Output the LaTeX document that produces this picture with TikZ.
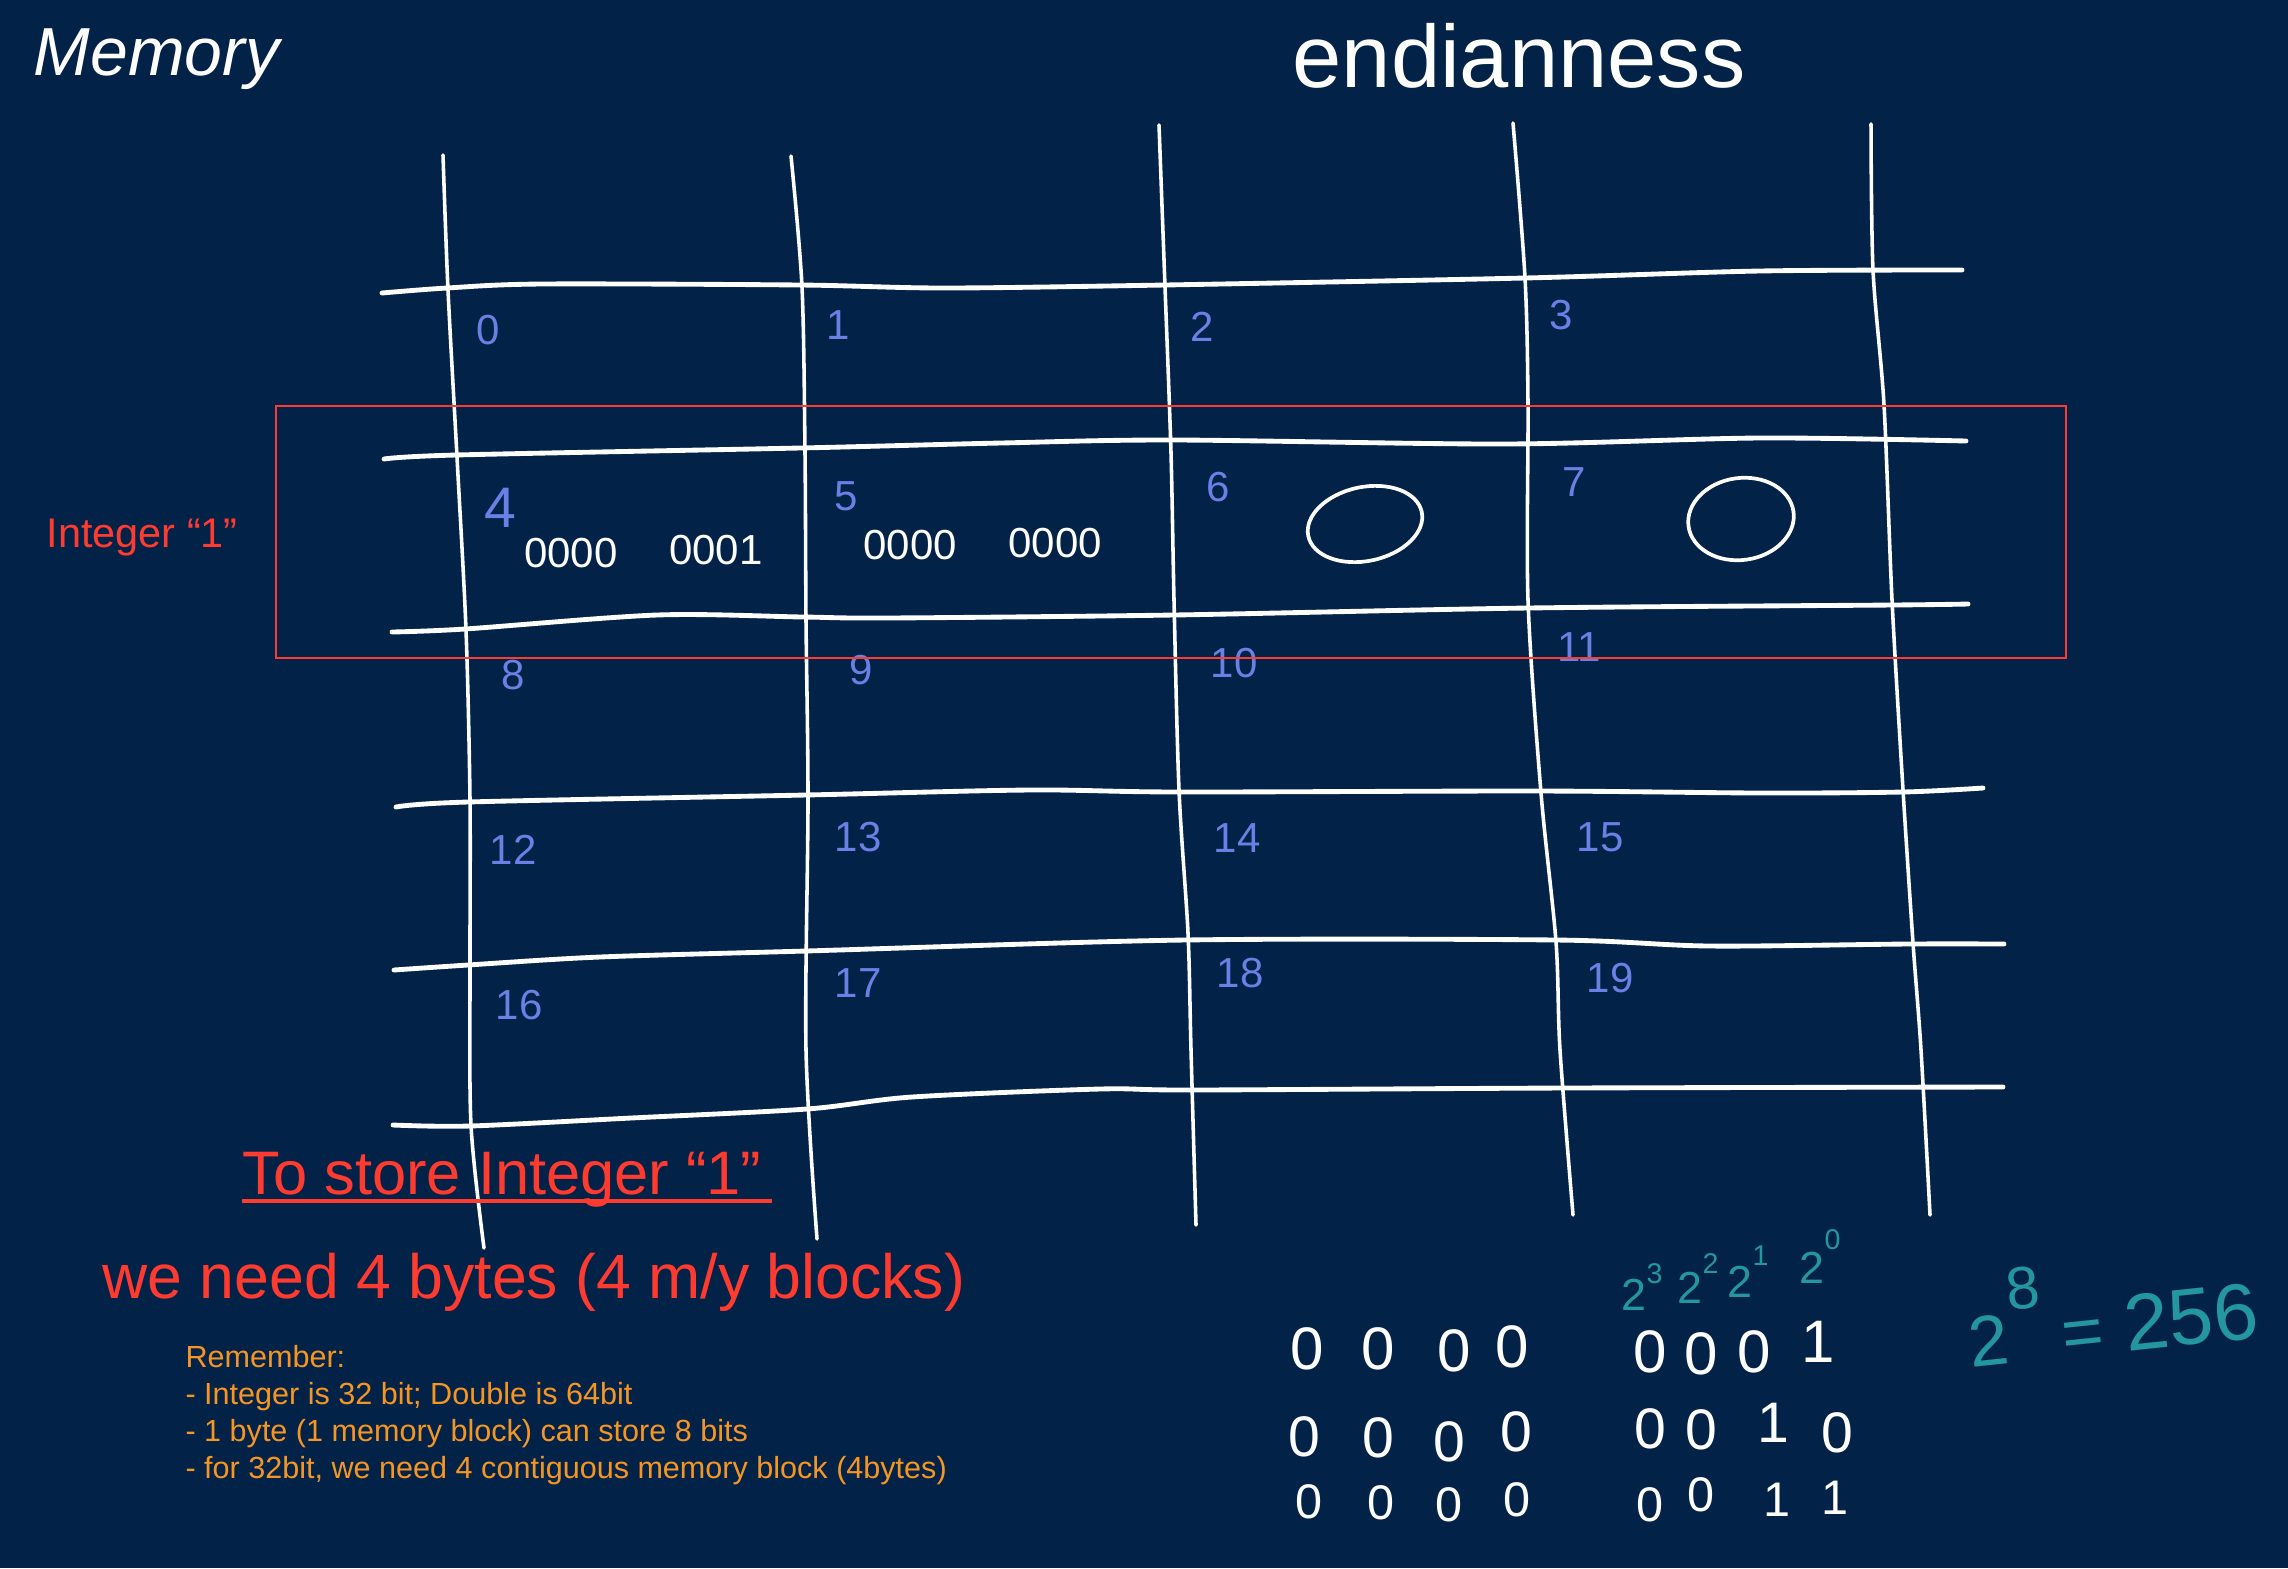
\documentclass[tikz,border=0pt]{standalone}
\usepackage{fontspec}
\setmainfont{Liberation Sans}
\definecolor{bgc}{RGB}{2,34,72}
\definecolor{redc}{RGB}{255,59,48}
\definecolor{orangec}{RGB}{245,150,35}
\definecolor{bluec}{RGB}{105,128,228}
\definecolor{tealc}{RGB}{35,150,160}
\newcommand{\myfs}[1]{\fontsize{#1}{#1}\selectfont}
\begin{document}
\begin{tikzpicture}[x=0.35pt,y=-0.35pt,
  hl/.style={white,line width=1.7pt,line cap=round,line join=round},
  vl/.style={white,line width=1.25pt,line cap=round,line join=round},
  lbl/.style={text=bluec,inner sep=0pt,font=\myfs{14.7}},
  cellbits/.style={text=white,inner sep=0pt,font=\myfs{14.7}},
  bit/.style={text=white,inner sep=0pt},
  pw/.style={text=tealc,inner sep=0pt,anchor=base west,font=\myfs{15.7}},
  note/.style={text=orangec,inner sep=0pt,anchor=base west,font=\myfs{10.7}},
  redtext/.style={text=redc,inner sep=0pt,anchor=base west},
  zero/.style={white,line width=1.3pt}
]
\fill[bgc] (0,0) rectangle (2288,1568);
\useasboundingbox (0,0) rectangle (2288,1568);

% titles
\node[anchor=base west,inner sep=0pt,text=white,font=\itshape\myfs{23.8}] (memory) at (33,75) {Memory};
\node[anchor=base west,inner sep=0pt,text=white,font=\myfs{31}] (endian) at (1292,87) {endianness};

% horizontal grid lines
\draw[hl] plot[smooth] coordinates {(382,293) (447,288) (542,284) (800,285) (944,288) (1165,285) (1525,278) (1760,271) (1962,270)};
\draw[hl] plot[smooth] coordinates {(384,459) (456,455) (800,448) (1001,443) (1174,440) (1505,444) (1760,438) (1966,441)};
\draw[hl] plot[smooth] coordinates {(392,632) (465,629) (657,615) (803,617) (887,618) (1174,615) (1528,608) (1893,605) (1968,604)};
\draw[hl] plot[smooth] coordinates {(396,807) (468,802) (806,795) (1030,790) (1179,792) (1536,791) (1760,793) (1903,792) (1983,788)};
\draw[hl] plot[smooth] coordinates {(394,970) (468,965) (600,957) (806,951) (1185,940) (1556,940) (1709,946) (1908,944) (2004,944)};
\draw[hl] plot[smooth] coordinates {(393,1125) (470,1126) (631,1118) (807,1109) (912,1097) (1100,1089) (1193,1090) (1565,1088) (2003,1087)};

% vertical grid lines
\draw[vl] plot[smooth] coordinates {(443,155) (448,290) (457,457) (466,630) (470,800) (470,967) (471,1125) (484,1248)};
\draw[vl] plot[smooth] coordinates {(791,156) (802,287) (805,453) (806,620) (808,800) (806,1050) (817,1239)};
\draw[vl] plot[smooth] coordinates {(1159,125) (1165,287) (1171,453) (1174,600) (1179,790) (1188,933) (1191,1050) (1196,1225)};
\draw[vl] plot[smooth] coordinates {(1513,123) (1525,278) (1528,405) (1528,600) (1541,793) (1556,942) (1560,1050) (1573,1215)};
\draw[vl] plot[smooth] coordinates {(1871,124) (1873,270) (1884,405) (1892,600) (1903,790) (1913,943) (1921,1050) (1930,1215)};

% cell labels
\foreach \t/\x/\y in {0/488/330, 1/838/325, 2/1202/327, 3/1561/315,
  5/846/496, 6/1218/487, 7/1574/482,
  8/513/675, 9/861/670, 10/1234/663, 11/1579/647,
  12/513/850, 13/858/837, 14/1237/838, 15/1600/837,
  16/519/1005, 17/858/983, 18/1240/973, 19/1610/978}
  \node[lbl] (c\t) at (\x,\y) {\t};
\node[lbl,font=\myfs{20}] (c4) at (500,508) {4};

% bits in cells 4 and 5
\node[cellbits] (b4a) at (571,553) {0000};
\node[cellbits] (b4b) at (716,550) {0001};
\node[cellbits] (b5a) at (910,545) {0000};
\node[cellbits] (b5b) at (1055,543) {0000};
\draw[zero,rotate around={12:(1365,524)}] (1365,524) ellipse [x radius=58,y radius=37];
\draw[zero,rotate around={8:(1741,519)}] (1741,519) ellipse [x radius=53,y radius=41];

% red frame and labels
\draw[redc,line width=0.8pt] (276,406) rectangle (2066,658);
\node[redtext,font=\myfs{14.5}] (intlbl) at (46,547) {Integer “1”};
\node[redtext,font=\myfs{21.5}] (store) at (242,1194) {To store Integer “1”};
\draw[redc,line width=1.15pt] (store.base west) ++(0,7) -- ++(530,0);
\node[redtext,font=\myfs{21.9}] (need) at (102,1298) {we need 4 bytes (4 m/y blocks)};

% remember notes
\node[note] (r1) at (185,1367) {Remember:};
\node[note] (r2) at (185,1404) {- Integer is 32 bit; Double is 64bit};
\node[note] (r3) at (185,1441) {- 1 byte (1 memory block) can store 8 bits};
\node[note] (r4) at (185,1478) {- for 32bit, we need 4 contiguous memory block (4bytes)};

% bit table bottom right
\foreach [count=\i] \t/\x/\y in {0/1307/1349, 0/1378/1349, 0/1454/1351, 0/1512/1347,
  0/1650/1352, 0/1701/1354, 0/1754/1352, 1/1818/1342}
  \node[bit,font=\myfs{21}] (ra\i) at (\x,\y) {\t};
\foreach [count=\i] \t/\x/\y in {0/1304/1437, 0/1378/1438, 0/1449/1442, 0/1516/1432,
  0/1650/1429, 0/1701/1430, 1/1773/1423, 0/1837/1433}
  \node[bit,font=\myfs{20}] (rb\i) at (\x,\y) {\t};
\foreach [count=\i] \t/\x/\y in {0/1309/1502, 0/1381/1503, 0/1449/1505, 0/1517/1500,
  0/1650/1505, 0/1701/1495, 1/1777/1500, 1/1835/1498}
  \node[bit,font=\myfs{17}] (rc\i) at (\x,\y) {\t};

% powers of two
\node[pw] (p3) at (1621,1310) {2\raisebox{0.6em}{\myfs{10}3}};
\node[pw] (p2) at (1677,1303) {2\raisebox{0.65em}{\myfs{10}2}};
\node[pw] (p1) at (1727,1297) {2\raisebox{0.7em}{\myfs{10}1}};
\node[pw] (p0) at (1799,1283) {2\raisebox{0.75em}{\myfs{10}0}};
\node[pw,rotate=6,font=\myfs{25}] (p8) at (1971,1368) {2\kern0.04em\raisebox{0.74em}{\myfs{21}8}\kern0.25em=\kern0.3em{\myfs{28}256}};
\end{tikzpicture}
\end{document}
